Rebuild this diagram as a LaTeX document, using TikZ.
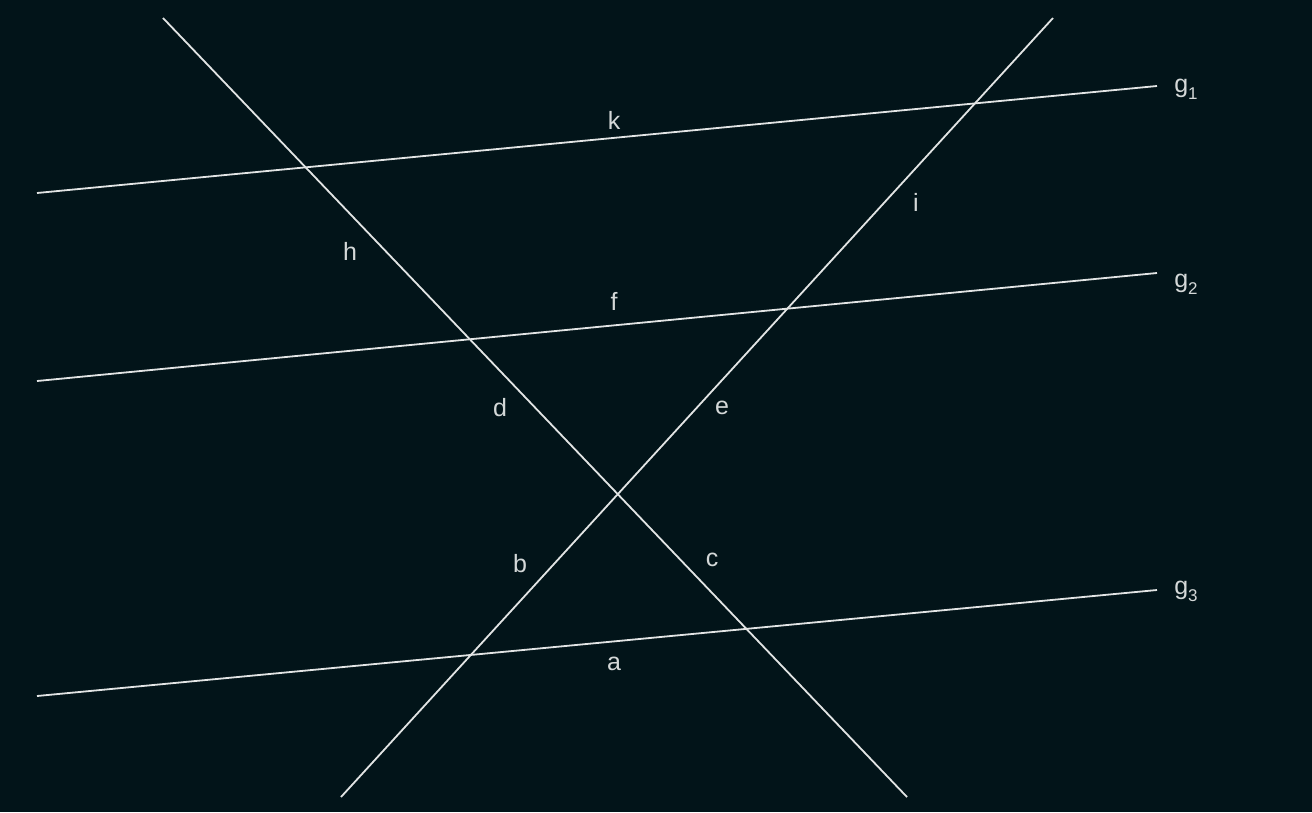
\documentclass[tikz,border=0pt]{standalone}
\usepackage{fontspec}
\setmainfont{Liberation Sans}
\definecolor{bg}{HTML}{021419}
\definecolor{ln}{HTML}{E2E4E4}
\definecolor{tx}{HTML}{D4D8D8}
\newcommand{\mysub}[1]{\raisebox{-0.28em}{\fontsize{17}{18}\selectfont #1}}
\begin{document}
\begin{tikzpicture}[x=1pt,y=-1pt,
  lineS/.style={draw=ln,line width=1.8pt},
  lab/.style={text=tx,font=\fontsize{25}{27}\selectfont,inner sep=0pt}]
\fill[bg] (0,0) rectangle (1312,812);
\useasboundingbox (0,0) rectangle (1312,812);
% endpoints
\coordinate (g1a) at (37,193); \coordinate (g1b) at (1157,86);
\coordinate (g2a) at (37,381); \coordinate (g2b) at (1157,273);
\coordinate (g3a) at (37,696); \coordinate (g3b) at (1157,590);
\coordinate (d1a) at (163,18); \coordinate (d1b) at (907,797);
\coordinate (d2a) at (341,797); \coordinate (d2b) at (1053,18);
\draw[lineS] (g1a) -- (g1b);
\draw[lineS] (g2a) -- (g2b);
\draw[lineS] (g3a) -- (g3b);
\draw[lineS] (d1a) -- (d1b);
\draw[lineS] (d2a) -- (d2b);
% labels
\node[lab] (lg1) at (1186,89) {g\mysub{1}};
\node[lab] (lg2) at (1186,284) {g\mysub{2}};
\node[lab] (lg3) at (1186,591) {g\mysub{3}};
\node[lab] (lk) at (614,120) {k};
\node[lab] (lh) at (350,251) {h};
\node[lab] (li) at (916,202) {i};
\node[lab] (lf) at (614,301) {f};
\node[lab] (ld) at (500,408) {d};
\node[lab] (le) at (722,408) {e};
\node[lab] (lb) at (520,564) {b};
\node[lab] (lc) at (712,560) {c};
\node[lab] (la) at (614,664) {a};
\end{tikzpicture}
\end{document}
